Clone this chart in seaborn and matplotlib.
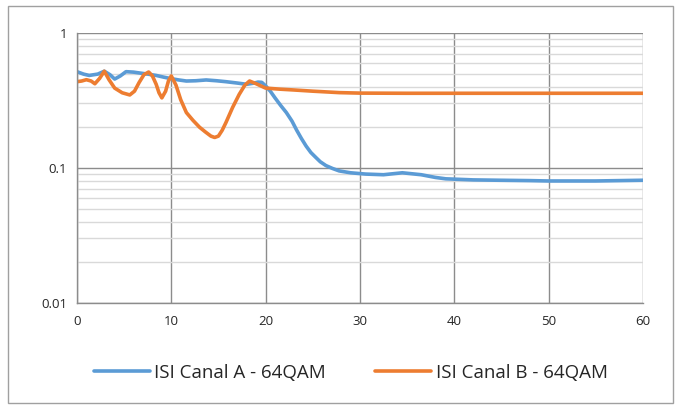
import matplotlib
matplotlib.use("Agg")
import matplotlib.pyplot as plt
from matplotlib.ticker import LogLocator, NullFormatter, FixedLocator, FixedFormatter
from matplotlib.patches import Rectangle
import seaborn as sns
import pandas as pd

# values
x_a = [0, 0.7, 1.3, 2.2, 2.9, 3.5, 4.0, 4.6, 5.2, 6.0, 6.6, 7.5, 8.4, 9.2, 10, 10.8, 11.6, 12.6, 13.7,
       14.8, 15.8, 17.0, 18.0, 18.8, 19.2, 19.6, 20.0, 20.5, 21.0, 21.6, 22.2, 22.8, 23.3, 23.8, 24.3, 24.8,
       25.3, 25.8, 26.4, 27.1, 27.8, 29.0, 30.6, 32.5, 34.5, 36.5, 38.0, 39.1, 42.0, 44.8, 48.0, 50.0, 55.0, 60.0]
isi_a = [0.516, 0.495, 0.484, 0.495, 0.52, 0.49, 0.455, 0.48, 0.516, 0.512, 0.505, 0.495, 0.484, 0.47, 0.458,
         0.448, 0.44, 0.442, 0.448, 0.442, 0.435, 0.425, 0.416, 0.425, 0.432, 0.43, 0.405, 0.37, 0.33, 0.29,
         0.257, 0.222, 0.19, 0.165, 0.145, 0.13, 0.12, 0.111, 0.104, 0.099, 0.095, 0.092, 0.09, 0.089, 0.092,
         0.089, 0.085, 0.083, 0.0815, 0.081, 0.0805, 0.08, 0.08, 0.081]

x_b = [0, 0.5, 1.0, 1.5, 1.9, 2.4, 2.9, 3.4, 4.0, 4.8, 5.6, 6.1, 6.6, 7.1, 7.6, 8.0, 8.4, 8.7, 9.0, 9.4,
       9.7, 10.0, 10.5, 11.0, 11.6, 12.3, 13.0, 13.6, 14.2, 14.6, 15.0, 15.4, 15.8, 16.5, 17.2, 17.8, 18.3,
       19.0, 20.0, 21.5, 22.9, 25.0, 27.8, 30.0, 35.0, 40.0, 50.0, 60.0]
isi_b = [0.435, 0.44, 0.45, 0.44, 0.42, 0.46, 0.52, 0.45, 0.39, 0.36, 0.347, 0.37, 0.43, 0.49, 0.513, 0.48,
         0.416, 0.36, 0.33, 0.37, 0.44, 0.48, 0.41, 0.32, 0.257, 0.225, 0.2, 0.185, 0.172, 0.168, 0.172, 0.19,
         0.217, 0.28, 0.35, 0.41, 0.44, 0.42, 0.39, 0.383, 0.378, 0.37, 0.361, 0.358, 0.357, 0.357, 0.357, 0.357]

label_a = "ISI Canal A - 64QAM"
label_b = "ISI Canal B - 64QAM"
x_ticks = [0, 10, 20, 30, 40, 50, 60]
y_ticks = [0.01, 0.1, 1]
y_labels = ["0.01", "0.1", "1"]

df = pd.concat([
    pd.DataFrame({"x": x_a, "isi": isi_a, "serie": label_a}),
    pd.DataFrame({"x": x_b, "isi": isi_b, "serie": label_b}),
])

sns.set_style("white")
plt.rcParams["font.family"] = ["Open Sans", "DejaVu Sans"]

fig = plt.figure(figsize=(6.81, 4.11), dpi=100)
ax = fig.add_axes([0.113, 0.263, 0.831, 0.657])

sns.lineplot(data=df, x="x", y="isi", hue="serie", sort=False,
             palette={label_a: "#5B9BD5", label_b: "#ED7D31"},
             linewidth=2.6, ax=ax, legend=True)

ax.set_yscale("log")
ax.set_xlim(0, 60)
ax.set_ylim(0.01, 1)
ax.xaxis.set_major_locator(FixedLocator(x_ticks))
ax.yaxis.set_major_locator(FixedLocator(y_ticks))
ax.yaxis.set_major_formatter(FixedFormatter(y_labels))
ax.yaxis.set_minor_locator(LogLocator(base=10, subs=range(2, 10)))
ax.yaxis.set_minor_formatter(NullFormatter())

ax.grid(which="major", color="#8c8c8c", linewidth=1.0)
ax.grid(which="minor", axis="y", color="#d9d9d9", linewidth=1.0)
ax.set_axisbelow(True)

for s in ["top", "right"]:
    ax.spines[s].set_visible(False)
for s in ["left", "bottom"]:
    ax.spines[s].set_color("#8c8c8c")
    ax.spines[s].set_linewidth(1.0)

ax.tick_params(axis="y", which="major", length=4, color="#8c8c8c", labelsize=9.5, pad=3)
ax.tick_params(axis="y", which="minor", length=0)
ax.tick_params(axis="x", length=0, labelsize=9.5, pad=9)
ax.set_xlabel("")
ax.set_ylabel("")

handles, labels = ax.get_legend_handles_labels()
ax.legend_.remove()
fig.legend(handles, labels, loc="center", bbox_to_anchor=(0.515, 0.093), ncol=2,
           frameon=False, fontsize=13.5, handlelength=3.0, columnspacing=2.6, handletextpad=0.25)

fig.patches.append(Rectangle((0.012, 0.02), 0.976, 0.965, transform=fig.transFigure,
                             fill=False, edgecolor="#a0a0a0", linewidth=1.0))

fig.savefig("out.png", dpi=100)
